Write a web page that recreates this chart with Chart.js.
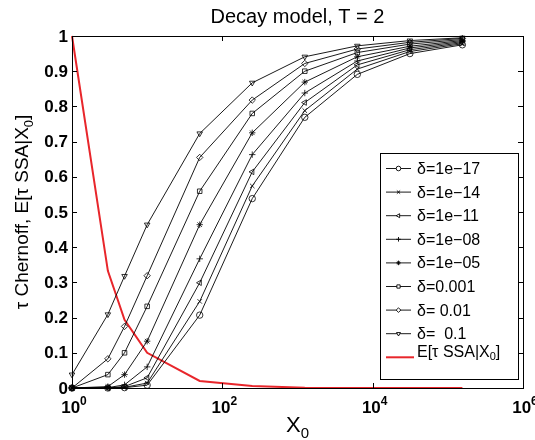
<!DOCTYPE html>
<html lang="en">
<head>
<meta charset="UTF-8">
<title>Decay model, T = 2</title>
<style>
  body { margin: 0; padding: 0; background: #fff; }
  canvas { display: block; }
</style>
</head>
<body>
<canvas id="chart" width="535" height="440"></canvas>
<script src="https://cdn.jsdelivr.net/npm/chart.js"></script>
<script>
// initial molecule counts X0 (log axis)
const x0Values = [1, 3, 5, 10, 50, 250, 1250, 6250, 31250, 156250];

// tau Chernoff for each delta
const delta1e17 = [0, 0, 0.001, 0.008, 0.207, 0.538, 0.769, 0.891, 0.950, 0.975];
const delta1e14 = [0, 0, 0.002, 0.014, 0.246, 0.574, 0.788, 0.906, 0.956, 0.978];
const delta1e11 = [0, 0, 0.004, 0.029, 0.299, 0.614, 0.811, 0.918, 0.961, 0.981];
const delta1e08 = [0, 0.001, 0.009, 0.060, 0.367, 0.663, 0.838, 0.929, 0.966, 0.984];
const delta1e05 = [0, 0.004, 0.038, 0.133, 0.464, 0.725, 0.869, 0.941, 0.971, 0.987];
const delta0001 = [0, 0.038, 0.100, 0.232, 0.559, 0.780, 0.900, 0.953, 0.977, 0.990];
const delta001 = [0, 0.083, 0.175, 0.319, 0.655, 0.818, 0.922, 0.963, 0.982, 0.993];
const delta01 = [0.038, 0.209, 0.318, 0.464, 0.723, 0.867, 0.941, 0.972, 0.987, 0.995];

// E[tau SSA | X0]
const ssaMean = [1.0, 0.333, 0.194, 0.100, 0.020, 0.006, 0.001, 0.0002, 0, 0];

const deltaLabels = ['δ=1e\u221217', 'δ=1e\u221214', 'δ=1e\u221211', 'δ=1e\u221208',
                     'δ=1e\u221205', 'δ=0.001', 'δ= 0.01', 'δ=  0.1'];
const xTicks = [1, 100, 10000, 1000000];
const xTickExps = ['0', '2', '4', '6'];
const yTicks = [0, 0.1, 0.2, 0.3, 0.4, 0.5, 0.6, 0.7, 0.8, 0.9, 1];
const yTickLabels = ['0', '0.1', '0.2', '0.3', '0.4', '0.5', '0.6', '0.7', '0.8', '0.9', '1'];

const deltaSeries = [delta1e17, delta1e14, delta1e11, delta1e08, delta1e05, delta0001, delta001, delta01];
const markers = [
    { style: 'circle', rot: 0 },
    { style: 'crossRot', rot: 0 },
    { style: 'triangle', rot: -90 },
    { style: 'cross', rot: 0 },
    { style: 'star', rot: 0 },
    { style: 'rect', rot: 0 },
    { style: 'rectRot', rot: 0 },
    { style: 'triangle', rot: 180 }
];
const RED = '#e8262b';
const FONT = '"Liberation Sans", Arial, Helvetica, sans-serif';

const datasets = deltaSeries.map((vals, i) => ({
    label: deltaLabels[i],
    data: x0Values.map((x, j) => ({ x: x, y: vals[j] })),
    borderColor: '#000',
    borderWidth: 0.9,
    pointStyle: markers[i].style,
    pointRotation: markers[i].rot,
    pointRadius: 3.2,
    pointBorderWidth: 0.8,
    pointBorderColor: '#000',
    pointBackgroundColor: 'rgba(0,0,0,0)',
    tension: 0,
    clip: false
}));
datasets.push({
    label: 'E[τ SSA|X0]',
    data: x0Values.map((x, j) => ({ x: x, y: ssaMean[j] })),
    borderColor: RED,
    borderWidth: 2,
    pointRadius: 0,
    tension: 0,
    clip: false
});

// draw a string made of pieces with different fonts / vertical offsets
function drawRich(ctx, parts, x, y, align) {
    let total = 0;
    parts.forEach(p => { ctx.font = p.font; p.w = ctx.measureText(p.t).width; total += p.w; });
    let cx = align === 'center' ? x - total / 2 : (align === 'right' ? x - total : x);
    ctx.textAlign = 'left';
    parts.forEach(p => {
        ctx.font = p.font;
        ctx.fillText(p.t, cx, y + (p.dy || 0));
        cx += p.w;
    });
}

const matlabAxes = {
    id: 'matlabAxes',
    afterDraw(chart) {
        const ctx = chart.ctx;
        const a = chart.chartArea;
        const xs = chart.scales.x, ys = chart.scales.y;
        ctx.save();
        ctx.strokeStyle = '#000';
        ctx.fillStyle = '#000';
        ctx.lineWidth = 1;

        // box
        ctx.strokeRect(Math.round(a.left) + 0.5, Math.round(a.top) + 0.5,
                       Math.round(a.right - a.left), Math.round(a.bottom - a.top));

        // ticks inside, on all four sides
        const tl = 5;
        ctx.beginPath();
        xTicks.forEach(v => {
            const px = Math.round(xs.getPixelForValue(v)) + 0.5;
            ctx.moveTo(px, a.bottom); ctx.lineTo(px, a.bottom - tl);
            ctx.moveTo(px, a.top); ctx.lineTo(px, a.top + tl);
        });
        yTicks.forEach(v => {
            const py = Math.round(ys.getPixelForValue(v)) + 0.5;
            ctx.moveTo(a.left, py); ctx.lineTo(a.left + tl, py);
            ctx.moveTo(a.right, py); ctx.lineTo(a.right - tl, py);
        });
        ctx.stroke();

        // tick labels
        ctx.textBaseline = 'middle';
        ctx.textAlign = 'right';
        ctx.font = 'bold 17px ' + FONT;
        yTicks.forEach((v, i) => {
            ctx.fillText(yTickLabels[i], a.left - 4, ys.getPixelForValue(v) + 1);
        });
        ctx.textBaseline = 'alphabetic';
        xTicks.forEach((v, i) => {
            drawRich(ctx, [
                { t: '10', font: 'bold 17px ' + FONT },
                { t: xTickExps[i], font: 'bold 12px ' + FONT, dy: -8 }
            ], xs.getPixelForValue(v) + 2, a.bottom + 25, 'center');
        });

        // title
        const midX = (a.left + a.right) / 2;
        ctx.font = '20px ' + FONT;
        ctx.textAlign = 'center';
        ctx.textBaseline = 'alphabetic';
        ctx.fillText('Decay model, T = 2', midX, 23);

        // x axis title
        drawRich(ctx, [
            { t: 'X', font: '22px ' + FONT },
            { t: '0', font: '15px ' + FONT, dy: 6 }
        ], midX, a.bottom + 44, 'center');

        // y axis title (rotated)
        ctx.save();
        ctx.translate(28, (a.top + a.bottom) / 2);
        ctx.rotate(-Math.PI / 2);
        drawRich(ctx, [
            { t: 'τ Chernoff, E[τ SSA|X', font: '19px ' + FONT },
            { t: '0', font: '13px ' + FONT, dy: 5 },
            { t: ']', font: '19px ' + FONT }
        ], 0, 0, 'center');
        ctx.restore();

        // legend
        const lx = 380, ly = 153, lw = 138, lh = 226;
        ctx.fillStyle = '#fff';
        ctx.fillRect(lx, ly, lw, lh);
        ctx.strokeStyle = '#000';
        ctx.lineWidth = 1;
        ctx.strokeRect(lx + 0.5, ly + 0.5, lw, lh);
        ctx.textBaseline = 'middle';
        const step = 23.6;
        deltaLabels.forEach((lab, i) => {
            const y = ly + 15.5 + step * i;
            ctx.lineWidth = 0.9;
            ctx.strokeStyle = '#000';
            ctx.beginPath();
            ctx.moveTo(lx + 6, y); ctx.lineTo(lx + 31, y);
            ctx.stroke();
            ctx.fillStyle = '#fff';
            Chart.helpers.drawPoint(ctx, {
                pointStyle: markers[i].style, rotation: markers[i].rot,
                radius: 2.3, borderWidth: 0.8
            }, lx + 18.5, y);
            ctx.fillStyle = '#000';
            ctx.font = '16px ' + FONT;
            ctx.textAlign = 'left';
            ctx.fillText(lab, lx + 37, y + 1);
        });
        const ry = ly + 15.5 + step * 8;
        ctx.strokeStyle = RED;
        ctx.lineWidth = 2;
        ctx.beginPath();
        ctx.moveTo(lx + 6, ry); ctx.lineTo(lx + 34, ry);
        ctx.stroke();
        ctx.fillStyle = '#000';
        ctx.textBaseline = 'middle';
        drawRich(ctx, [
            { t: 'E[τ SSA|X', font: '16px ' + FONT },
            { t: '0', font: '11px ' + FONT, dy: 5 },
            { t: ']', font: '16px ' + FONT }
        ], lx + 37, ry - 5, 'left');
        ctx.restore();
    }
};

new Chart(document.getElementById('chart'), {
    type: 'line',
    data: { datasets },
    options: {
        responsive: false,
        animation: false,
        events: [],
        layout: { autoPadding: false, padding: { left: 72, right: 12, top: 36, bottom: 52 } },
        plugins: { legend: { display: false }, title: { display: false }, tooltip: { enabled: false } },
        scales: {
            x: { type: 'logarithmic', min: 1, max: 1000000, display: false },
            y: { type: 'linear', min: 0, max: 1, display: false }
        }
    },
    plugins: [matlabAxes]
});
</script>
</body>
</html>
